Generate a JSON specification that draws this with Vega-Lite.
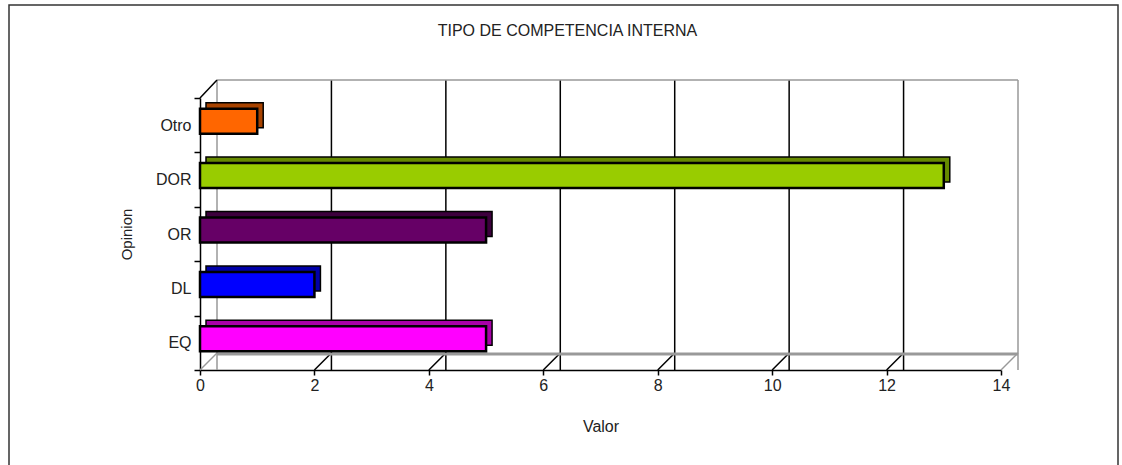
{
  "$schema": "https://vega.github.io/schema/vega-lite/v6.json",
  "width": 801,
  "height": 272,
  "autosize": {"type": "none"},
  "padding": {"left": 200, "top": 98, "right": 121, "bottom": 95},
  "background": "white",
  "title": {"text": "TIPO DE COMPETENCIA INTERNA", "font": "Liberation Sans", "fontSize": 16, "fontWeight": "normal", "color": "#222", "offset": -35, "dx": -33, "anchor": "middle"},
  "datasets": {
    "opin": [
      {"cat": "Otro", "v": 1},
      {"cat": "DOR", "v": 13},
      {"cat": "OR", "v": 5},
      {"cat": "DL", "v": 2},
      {"cat": "EQ", "v": 5}
    ],
    "ticks": [{"t": 0}, {"t": 2}, {"t": 4}, {"t": 6}, {"t": 8}, {"t": 10}, {"t": 12}, {"t": 14}],
    "one": [{}]
  },
  "config": {
    "view": {"stroke": null},
    "axis": {
      "labelFont": "Liberation Sans",
      "titleFont": "Liberation Sans",
      "labelFontSize": 16,
      "titleFontSize": 16,
      "titleFontWeight": "normal",
      "labelColor": "#222",
      "titleColor": "#222",
      "domainColor": "#000",
      "domainWidth": 1.5,
      "tickColor": "#000",
      "tickWidth": 1.5,
      "labelFlush": false,
      "grid": false
    }
  },
  "resolve": {"scale": {"color": "independent"}},
  "layer": [
    {
      "data": {"name": "one"},
      "mark": {"type": "rect", "fill": null, "stroke": "#333", "strokeWidth": 1.5},
      "encoding": {
        "x": {"value": -191},
        "x2": {"value": 918},
        "y": {"value": -93},
        "y2": {"value": 400}
      }
    },
    {
      "data": {"name": "ticks"},
      "mark": {"type": "rule", "strokeWidth": 1.5, "xOffset": 17, "yOffset": -18},
      "encoding": {
        "x": {"field": "t", "type": "quantitative", "scale": {"domain": [0, 14], "nice": false},
              "axis": {"title": "Valor", "values": [0, 2, 4, 6, 8, 10, 12, 14], "tickSize": 5, "labelPadding": 2, "titlePadding": 25, "labelFlush": false}},
        "stroke": {"condition": {"test": "datum.t == 0 || datum.t == 14", "value": "#999"}, "value": "#000"}
      }
    },
    {
      "data": {"name": "ticks"},
      "mark": {"type": "rule", "strokeWidth": 1.5, "x2Offset": 17, "y2Offset": -17},
      "encoding": {
        "x": {"field": "t", "type": "quantitative",
              "axis": {"title": "Valor", "values": [0, 2, 4, 6, 8, 10, 12, 14], "tickSize": 5, "labelPadding": 2, "titlePadding": 25, "labelFlush": false}},
        "x2": {"field": "t"},
        "y": {"value": "height"},
        "y2": {"value": "height"},
        "stroke": {"condition": {"test": "datum.t == 0 || datum.t == 14", "value": "#999"}, "value": "#000"}
      }
    },
    {
      "data": {"name": "one"},
      "mark": {"type": "rule", "stroke": "#999", "strokeWidth": 3, "xOffset": 17, "x2Offset": 17, "yOffset": -16, "y2Offset": -16},
      "encoding": {
        "x": {"datum": 0, "type": "quantitative",
              "axis": {"title": "Valor", "values": [0, 2, 4, 6, 8, 10, 12, 14], "tickSize": 5, "labelPadding": 2, "titlePadding": 25, "labelFlush": false}},
        "x2": {"datum": 14},
        "y": {"value": "height"},
        "y2": {"value": "height"}
      }
    },
    {
      "data": {"name": "one"},
      "mark": {"type": "rule", "stroke": "#999", "strokeWidth": 1.5, "xOffset": 17, "x2Offset": 17, "yOffset": -18, "y2Offset": -18},
      "encoding": {
        "x": {"datum": 0, "type": "quantitative",
              "axis": {"title": "Valor", "values": [0, 2, 4, 6, 8, 10, 12, 14], "tickSize": 5, "labelPadding": 2, "titlePadding": 25, "labelFlush": false}},
        "x2": {"datum": 14},
        "y": {"value": 0},
        "y2": {"value": 0}
      }
    },
    {
      "data": {"name": "one"},
      "mark": {"type": "rule", "stroke": "#000", "strokeWidth": 1.5, "x2Offset": 17, "y2Offset": -18},
      "encoding": {
        "x": {"datum": 0, "type": "quantitative",
              "axis": {"title": "Valor", "values": [0, 2, 4, 6, 8, 10, 12, 14], "tickSize": 5, "labelPadding": 2, "titlePadding": 25, "labelFlush": false}},
        "x2": {"datum": 0},
        "y": {"value": 0},
        "y2": {"value": 0}
      }
    },
    {
      "data": {"name": "opin"},
      "mark": {"type": "bar", "height": {"band": 0.46}, "stroke": "#000", "strokeWidth": 1.5, "xOffset": 6, "x2Offset": 6, "yOffset": -10, "y2Offset": -10},
      "encoding": {
        "y": {"field": "cat", "type": "nominal", "sort": ["Otro", "DOR", "OR", "DL", "EQ"], "scale": {"paddingInner": 0, "paddingOuter": 0},
              "axis": {"title": "Opinion", "tickBand": "extent", "tickSize": 6, "labelPadding": 3, "titlePadding": 21, "titleFontSize": 15}},
        "x": {"field": "v", "type": "quantitative",
              "axis": {"title": "Valor", "values": [0, 2, 4, 6, 8, 10, 12, 14], "tickSize": 5, "labelPadding": 2, "titlePadding": 25, "labelFlush": false}},
        "color": {"field": "cat", "type": "nominal", "legend": null,
                  "scale": {"domain": ["Otro", "DOR", "OR", "DL", "EQ"], "range": ["#a84300", "#668a00", "#3d003d", "#0000a8", "#a800a8"]}}
      }
    },
    {
      "data": {"name": "opin"},
      "mark": {"type": "bar", "height": {"band": 0.46}, "stroke": "#000", "strokeWidth": 2.5, "yOffset": -4, "y2Offset": -4},
      "encoding": {
        "y": {"field": "cat", "type": "nominal", "sort": ["Otro", "DOR", "OR", "DL", "EQ"],
              "axis": {"title": "Opinion", "tickBand": "extent", "tickSize": 6, "labelPadding": 3, "titlePadding": 21, "titleFontSize": 15}},
        "x": {"field": "v", "type": "quantitative",
              "axis": {"title": "Valor", "values": [0, 2, 4, 6, 8, 10, 12, 14], "tickSize": 5, "labelPadding": 2, "titlePadding": 25, "labelFlush": false}},
        "color": {"field": "cat", "type": "nominal", "legend": null,
                  "scale": {"domain": ["Otro", "DOR", "OR", "DL", "EQ"], "range": ["#ff6600", "#99cc00", "#660066", "#0000ff", "#ff00ff"]}}
      }
    }
  ]
}
